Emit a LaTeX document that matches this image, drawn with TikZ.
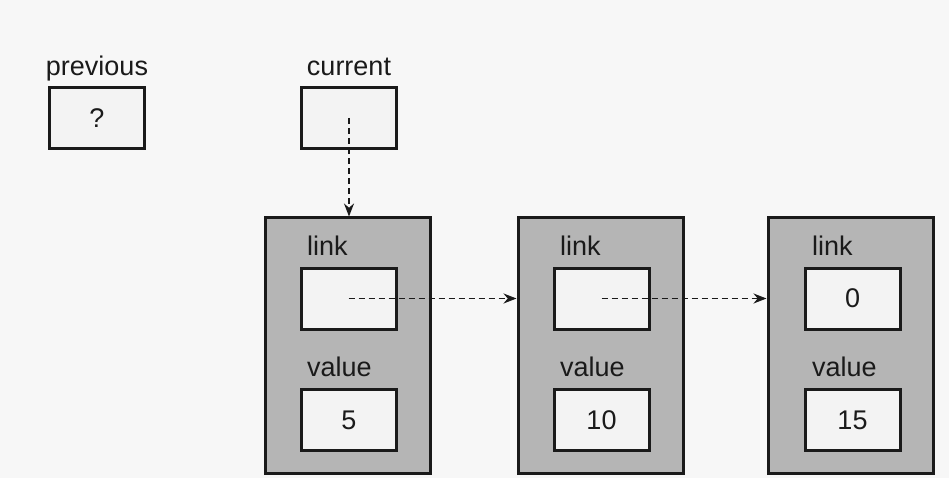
\documentclass[tikz,border=0pt]{standalone}
\usepackage{fontspec}
\setmainfont{Liberation Sans}
\usetikzlibrary{arrows.meta}
\definecolor{bg}{HTML}{F7F7F7}
\definecolor{nodegray}{HTML}{B5B5B5}
\definecolor{boxfill}{HTML}{F3F3F3}
\definecolor{ink}{HTML}{1A1A1A}
\begin{document}
\begin{tikzpicture}[x=1pt,y=-1pt,
  every node/.style={font=\fontsize{27}{31}\selectfont, text=ink},
  outerbox/.style={draw=ink, line width=3pt, fill=nodegray, minimum width=165pt, minimum height=255pt, inner sep=0pt},
  cell/.style={draw=ink, line width=3pt, fill=boxfill, minimum width=95pt, minimum height=61pt, inner sep=0pt},
  lbl/.style={anchor=base west, inner sep=0pt},
  ptr/.style={draw=ink, line width=1.7pt, dash pattern=on 6pt off 4pt, -{Stealth[length=13pt,width=10pt]}}
]
\useasboundingbox[fill=bg] (0,0) rectangle (949,478);

% variables
\node[cell] (prev) at (97,118) {?};
\node[anchor=base, inner sep=0pt] (prevlbl) at (97,76) {previous};
\node[cell] (cur) at (349,118) {};
\node[anchor=base, inner sep=0pt] (curlbl) at (349,76) {current};

% list nodes
\node[outerbox] (n1) at (347.5,345.5) {};
\node[outerbox] (n2) at (600.5,345.5) {};
\node[outerbox] (n3) at (850.5,345.5) {};

\node[cell] (l1) at (348.5,298.5) {};
\node[cell] (v1) at (349,420) {5};
\node[cell] (l2) at (601.5,298.5) {};
\node[cell] (v2) at (601.5,420) {10};
\node[cell] (l3) at (852.5,298.5) {0};
\node[cell] (v3) at (852.5,420) {15};

\node[lbl] (lk1) at (307,255) {link};
\node[lbl] (vl1) at (307,376) {value};
\node[lbl] (lk2) at (560,255) {link};
\node[lbl] (vl2) at (560,376) {value};
\node[lbl] (lk3) at (812,255) {link};
\node[lbl] (vl3) at (812,376) {value};

% pointers
\draw[ptr] (cur.center) -- (cur.center |- n1.north);
\draw[ptr] (l1.center) -- (l1.center -| n2.west);
\draw[ptr] (l2.center) -- (l2.center -| n3.west);
\end{tikzpicture}
\end{document}
